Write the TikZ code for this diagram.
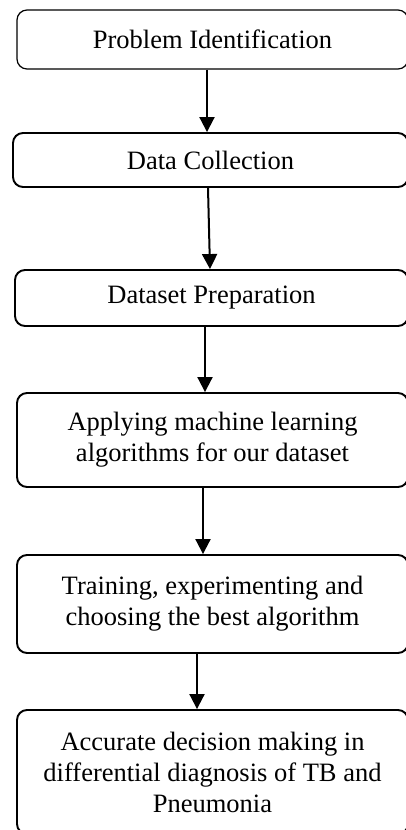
\documentclass[tikz,border=0pt]{standalone}
\usepackage{fontspec}
\setmainfont{Liberation Serif}
\usetikzlibrary{arrows.meta}
\begin{document}
\begin{tikzpicture}[x=1pt,y=1pt,
  stage/.style={draw=black, line width=1.9pt, rounded corners=10pt,
    minimum width=391pt, align=center, inner sep=0pt,
    font=\fontsize{26.5}{31}\selectfont},
  flow/.style={line width=2pt, -{Triangle[width=15pt,length=15pt]}}]
\useasboundingbox (0,0) rectangle (405,-830);
\fill[white] (0,0) rectangle (405,-830);

\node[stage, line width=1.2pt, minimum height=59pt] (p1) at (212.5,-39.5) {Problem Identification};
\node[stage, minimum width=395pt, minimum height=54pt] (p2) at (210.5,-160) {Data Collection};
\node[stage, minimum width=393pt, minimum height=56pt] (p3) at (211.5,-298) {Dataset Preparation};
\node[stage, minimum height=94pt] (p4) at (212.5,-440) {Applying machine learning\\algorithms for our dataset};
\node[stage, minimum height=98pt] (p5) at (212.5,-604) {Training, experimenting and\\choosing the best algorithm};
\node[stage, minimum height=124pt] (p6) at (212.5,-772) {Accurate decision making in\\differential diagnosis of TB and\\Pneumonia};

\draw[flow] ([xshift=-5.5pt]p1.south) -- ([xshift=-3.5pt]p2.north);
\draw[flow] ([xshift=-2.5pt]p2.south) -- ([xshift=-1.5pt]p3.north);
\draw[flow] ([xshift=-6.5pt]p3.south) -- ([xshift=-7.5pt]p4.north);
\draw[flow] ([xshift=-9.5pt]p4.south) -- ([xshift=-9.5pt]p5.north);
\draw[flow] ([xshift=-15.5pt]p5.south) -- ([xshift=-15.5pt]p6.north);
\end{tikzpicture}
\end{document}
